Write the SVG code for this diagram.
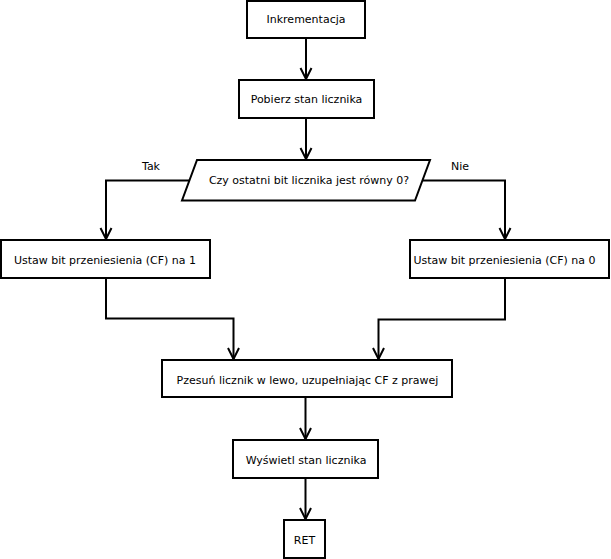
<svg xmlns="http://www.w3.org/2000/svg" width="611" height="559" viewBox="0 0 611 559">
<style>
.box{fill:#fff;stroke:#000;stroke-width:2}
.t{font-family:"DejaVu Sans","Liberation Sans",sans-serif;font-size:11px;fill:#000;text-anchor:middle}
.c{fill:none;stroke:#000;stroke-width:2}
</style>
<defs>
<marker id="ah" viewBox="0 0 12 12" refX="11" refY="6" markerWidth="12" markerHeight="12" markerUnits="userSpaceOnUse" orient="auto" overflow="visible">
<path d="M0,0.5 L11,6 L0,11.5" fill="none" stroke="#000" stroke-width="2"/>
</marker>
</defs>
<rect width="611" height="559" fill="#fff"/>
<g id="connectors">
<path class="c" d="M306,38 V79" marker-end="url(#ah)"/>
<path class="c" d="M306,118 V159" marker-end="url(#ah)"/>
<path class="c" d="M189,180.5 H106 V239" marker-end="url(#ah)"/>
<path class="c" d="M423,180.5 H505 V239" marker-end="url(#ah)"/>
<path class="c" d="M106,278 V318.5 H233.5 V359" marker-end="url(#ah)"/>
<path class="c" d="M505,278 V319.5 H378.5 V359" marker-end="url(#ah)"/>
<path class="c" d="M305.5,397 V439" marker-end="url(#ah)"/>
<path class="c" d="M305.5,478 V519" marker-end="url(#ah)"/>
<text class="t" x="151" y="170">Tak</text>
<text class="t" x="460" y="170">Nie</text>
</g>
<g id="n1"><rect class="box" x="247" y="1" width="118" height="37"/><text class="t" x="306" y="23">Inkrementacja</text></g>
<g id="n2"><rect class="box" x="239" y="80" width="135" height="38"/><text class="t" x="306.5" y="103">Pobierz stan licznika</text></g>
<g id="n3"><polygon class="box" points="197,160 430,160 415,200.5 182,200.5"/><text class="t" x="309" y="184">Czy ostatni bit licznika jest równy 0?</text></g>
<g id="n4"><rect class="box" x="1" y="240" width="209" height="38"/><text class="t" x="105" y="263.5">Ustaw bit przeniesienia (CF) na 1</text></g>
<g id="n5"><rect class="box" x="410" y="240" width="199" height="38"/><text class="t" x="504.5" y="263.5">Ustaw bit przeniesienia (CF) na 0</text></g>
<g id="n6"><rect class="box" x="162" y="360" width="290" height="37"/><text class="t" x="307.5" y="383.5">Pzesuń licznik w lewo, uzupełniając CF z prawej</text></g>
<g id="n7"><rect class="box" x="233" y="440" width="145" height="38"/><text class="t" x="306" y="463.5">Wyświetl stan licznika</text></g>
<g id="n8"><rect class="box" x="284" y="520" width="41" height="38"/><text class="t" x="304.5" y="543.5">RET</text></g>
</svg>
